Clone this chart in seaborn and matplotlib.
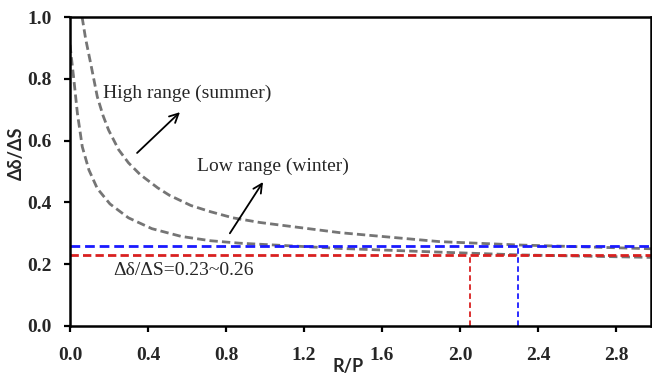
import numpy as np
import pandas as pd
import seaborn as sns
import matplotlib
matplotlib.use("Agg")
import matplotlib.pyplot as plt

# valores
rp_alta = [0.062, 0.08, 0.106, 0.14, 0.17, 0.198, 0.25, 0.30, 0.36, 0.45, 0.51,
           0.62, 0.72, 0.836, 0.974, 1.385, 1.897, 2.31, 2.98]
ratio_alta = [1.0, 0.93, 0.85, 0.742, 0.68, 0.634, 0.57, 0.528, 0.49, 0.447, 0.423,
              0.39, 0.37, 0.35, 0.335, 0.302, 0.273, 0.262, 0.25]

rp_baixa = [0.0, 0.02, 0.038, 0.063, 0.097, 0.14, 0.205, 0.30, 0.42, 0.57,
            0.72, 0.87, 1.385, 1.897, 2.31, 2.98]
ratio_baixa = [0.91, 0.796, 0.688, 0.58, 0.505, 0.445, 0.395, 0.35, 0.315, 0.29,
               0.276, 0.268, 0.251, 0.239, 0.230, 0.222]

nivel_vermelho = 0.23
nivel_azul = 0.26
rp_vermelho = 2.05
rp_azul = 2.30

xticks = [0.0, 0.4, 0.8, 1.2, 1.6, 2.0, 2.4, 2.8]
yticks = [0.0, 0.2, 0.4, 0.6, 0.8, 1.0]

df_alta = pd.DataFrame({"rp": rp_alta, "ratio": ratio_alta})
df_baixa = pd.DataFrame({"rp": rp_baixa, "ratio": ratio_baixa})

sns.set_theme(style="ticks")
plt.rcParams["font.family"] = ["Liberation Serif", "DejaVu Serif"]
plt.rcParams["lines.scale_dashes"] = False

fig = plt.figure(figsize=(6.52, 3.76), dpi=100)
ax = fig.add_axes([70 / 652, 50 / 376, 581 / 652, 309 / 376])

cinza = "#757575"
sns.lineplot(data=df_alta, x="rp", y="ratio", ax=ax, color=cinza, lw=2.0,
             linestyle=(0, (6, 3)))
sns.lineplot(data=df_baixa, x="rp", y="ratio", ax=ax, color=cinza, lw=2.0,
             linestyle=(0, (6, 3)))

ax.axhline(nivel_azul, color="#1a1aff", lw=2.0, linestyle=(0, (7, 3.5)))
ax.axhline(nivel_vermelho, color="#d92020", lw=2.0, linestyle=(0, (6, 3)))
ax.vlines(rp_vermelho, 0, nivel_vermelho, color="#d92020", lw=1.3,
          linestyles=[(0, (4, 2.5))])
ax.vlines(rp_azul, 0, nivel_azul, color="#1a1aff", lw=1.3,
          linestyles=[(0, (4, 2.5))])

ax.set_xlim(0, 2.98)
ax.set_ylim(0, 1.0)
ax.set_xticks(xticks)
ax.set_yticks(yticks)
ax.set_xticklabels([f"{v:.1f}" for v in xticks], fontweight="bold", fontsize=14)
ax.set_yticklabels([f"{v:.1f}" for v in yticks], fontweight="bold", fontsize=14)
ax.tick_params(axis="both", direction="out", length=4, width=1.6, color="black")
ax.tick_params(axis="x", pad=11)
ax.tick_params(axis="y", pad=9)

for lado in ["left", "right", "top", "bottom"]:
    ax.spines[lado].set_visible(True)
    ax.spines[lado].set_linewidth(1.8)
    ax.spines[lado].set_color("black")

ax.set_xlabel("R/P", fontsize=13, fontweight="bold", family=["Lato", "DejaVu Sans"])
ax.set_ylabel("Δδ/ΔS", fontsize=13, fontweight="bold", family=["Lato", "DejaVu Sans"])
ax.xaxis.set_label_coords(0.478, -0.105)
ax.yaxis.set_label_coords(-0.077, 0.56)

ax.text(0.169, 0.754, "High range (summer)", fontsize=14, ha="left", va="center")
ax.text(0.651, 0.518, "Low range (winter)", fontsize=14, ha="left", va="center")
ax.text(0.22, 0.181, "Δδ/ΔS=0.23~0.26", fontsize=14, ha="left", va="center")

seta = dict(arrowstyle="->", color="black", lw=1.3, mutation_scale=16,
            shrinkA=0, shrinkB=0)
ax.annotate("", xy=(0.564, 0.692), xytext=(0.344, 0.56), arrowprops=seta)
ax.annotate("", xy=(0.99, 0.466), xytext=(0.82, 0.30), arrowprops=seta)

ax.grid(False)
fig.savefig("out.png", dpi=100)
